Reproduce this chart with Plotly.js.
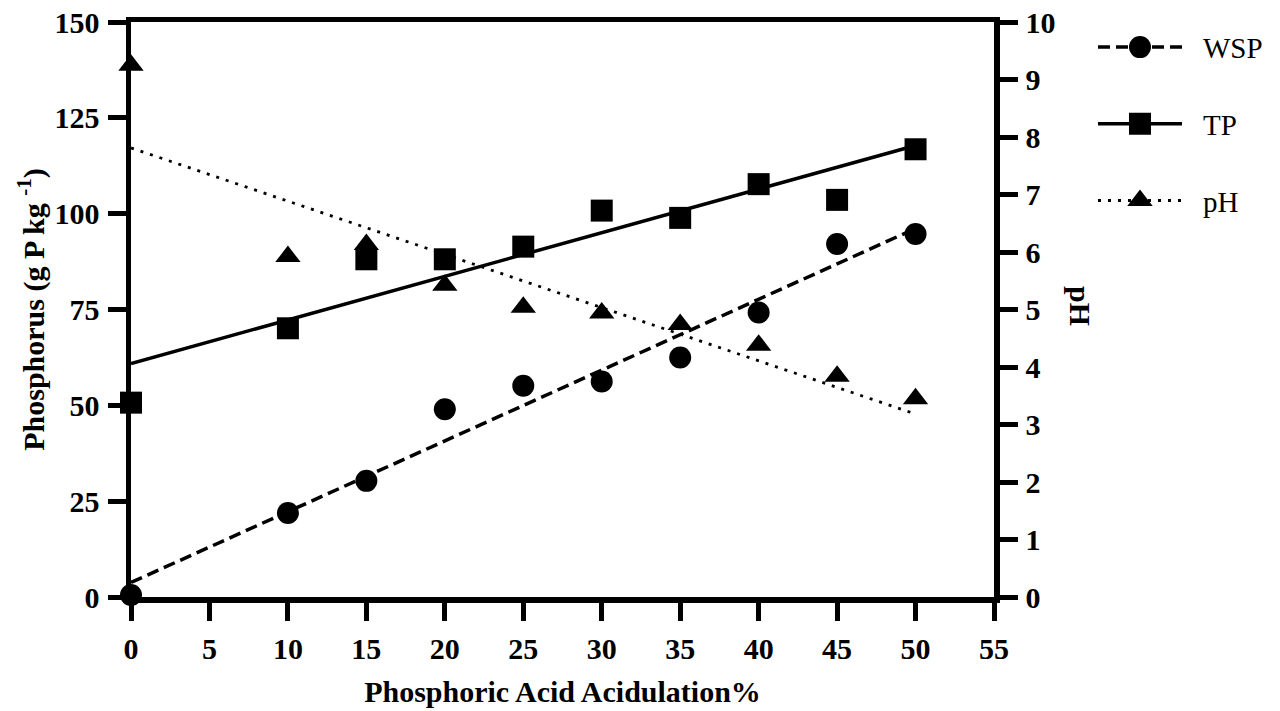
<!DOCTYPE html>
<html>
<head>
<meta charset="utf-8">
<script src="https://cdn.plot.ly/plotly-3.0.1.min.js"></script>
<style>html,body{margin:0;padding:0;background:#fff}#chart{width:1280px;height:711px}</style>
</head>
<body>
<div id="chart"></div>
<script>
// ---- data ----
const acidulation = [0, 10, 15, 20, 25, 30, 35, 40, 45, 50];
const wspValues = [0.5, 21.9, 30.3, 49.0, 55.1, 56.2, 62.5, 74.2, 92.1, 94.7];
const tpValues = [50.7, 70.1, 88.1, 88.1, 91.4, 100.8, 98.9, 107.7, 103.6, 116.8];
const phValues = [9.25, 5.92, 6.13, 5.42, 5.04, 4.94, 4.74, 4.38, 3.84, 3.45];
const seriesNames = ['WSP', 'TP', 'pH'];
const xTickVals = [0, 5, 10, 15, 20, 25, 30, 35, 40, 45, 50, 55];
const yTickVals = [0, 25, 50, 75, 100, 125, 150];
const y2TickVals = [0, 1, 2, 3, 4, 5, 6, 7, 8, 9, 10];

// least-squares straight line through a series
function linearFit(xs, ys) {
  const n = xs.length;
  const mx = xs.reduce((a, b) => a + b, 0) / n;
  const my = ys.reduce((a, b) => a + b, 0) / n;
  let sxy = 0, sxx = 0;
  for (let i = 0; i < n; i++) { sxy += (xs[i] - mx) * (ys[i] - my); sxx += (xs[i] - mx) ** 2; }
  const slope = sxy / sxx, icpt = my - slope * mx;
  const x0 = Math.min(...xs), x1 = Math.max(...xs);
  return { x: [x0, x1], y: [icpt + slope * x0, icpt + slope * x1] };
}

const FONT = 'Liberation Serif, Times New Roman, serif';
const styles = {
  WSP: { symbol: 'circle', size: 22, dash: '12px,6px', width: 3.5, axis: 'y', vals: wspValues },
  TP:  { symbol: 'square', size: 22, dash: 'solid', width: 3.5, axis: 'y', vals: tpValues },
  pH:  { symbol: 'triangle-up', size: 22, dash: '3px,7px', width: 2.8, axis: 'y2', vals: phValues }
};

const traces = [];
seriesNames.forEach((name, i) => {
  const s = styles[name];
  const fit = linearFit(acidulation, s.vals);
  traces.push({
    x: fit.x, y: fit.y, yaxis: s.axis, mode: 'lines', showlegend: false, hoverinfo: 'skip',
    line: { color: '#000', width: s.width, dash: s.dash }
  });
  traces.push({
    x: acidulation, y: s.vals, yaxis: s.axis, mode: 'markers', showlegend: false, cliponaxis: false,
    marker: { symbol: s.symbol, size: s.size, color: '#000' }
  });
  // legend entry
  traces.push({
    x: [null], y: [null], yaxis: s.axis, mode: 'lines+markers', name: name, legendgroup: 'g' + i,
    line: { color: '#000', width: s.width, dash: s.dash },
    marker: { symbol: s.symbol, size: s.size, color: '#000' }
  });
});

const tickFont = { family: FONT, size: 30, color: '#000', weight: 'bold' };
const axisCommon = {
  showline: true, linewidth: 5.5, linecolor: '#000', ticks: 'outside', ticklen: 18, tickwidth: 5,
  tickcolor: '#000', showgrid: false, zeroline: false, tickfont: tickFont, ticklabelstandoff: 2
};

const layout = {
  width: 1280, height: 711,
  paper_bgcolor: '#fff', plot_bgcolor: '#fff',
  margin: { l: 131, r: 286, t: 22, b: 114 },
  showlegend: true,
  xaxis: Object.assign({}, axisCommon, {
    range: [0, 55], tickmode: 'array', tickvals: xTickVals, mirror: true,
    title: { text: 'Phosphoric Acid Acidulation%', font: { family: FONT, size: 30, color: '#000', weight: 'bold' }, standoff: 19 }
  }),
  yaxis: Object.assign({}, axisCommon, {
    range: [0, 150], tickmode: 'array', tickvals: yTickVals,
    title: { text: 'Phosphorus (g P kg <sup>-1</sup>)', font: { family: FONT, size: 30, color: '#000', weight: 'bold' }, standoff: 3 }
  }),
  yaxis2: Object.assign({}, axisCommon, {
    range: [0, 10], tickmode: 'array', tickvals: y2TickVals, overlaying: 'y', side: 'right'
  }),
  legend: {
    x: 1.1147, y: 1.0004, xanchor: 'left', yanchor: 'top',
    font: { family: FONT, size: 29, color: '#000' },
    traceorder: 'grouped', tracegroupgap: 36, itemwidth: 100, bgcolor: 'rgba(0,0,0,0)'
  },
  annotations: [{
    text: 'pH', xref: 'paper', yref: 'paper', x: 1.1008, y: 0.506, xanchor: 'center', yanchor: 'middle',
    textangle: 90, showarrow: false,
    font: { family: FONT, size: 30, color: '#000', weight: 'bold' }
  }]
};

const gd = document.getElementById('chart');
Plotly.newPlot(gd, traces, layout, { displayModeBar: false, staticPlot: true }).then(() => {
  // widen legend samples to match the reference key
  gd.querySelectorAll('.legend .legendlines path.js-line').forEach(p => p.setAttribute('d', 'M5,0h84'));
  gd.querySelectorAll('.legend .legendpoints path.scatterpts').forEach(p => p.setAttribute('transform', 'translate(47,0) scale(1.375)'));
});
</script>
</body>
</html>
